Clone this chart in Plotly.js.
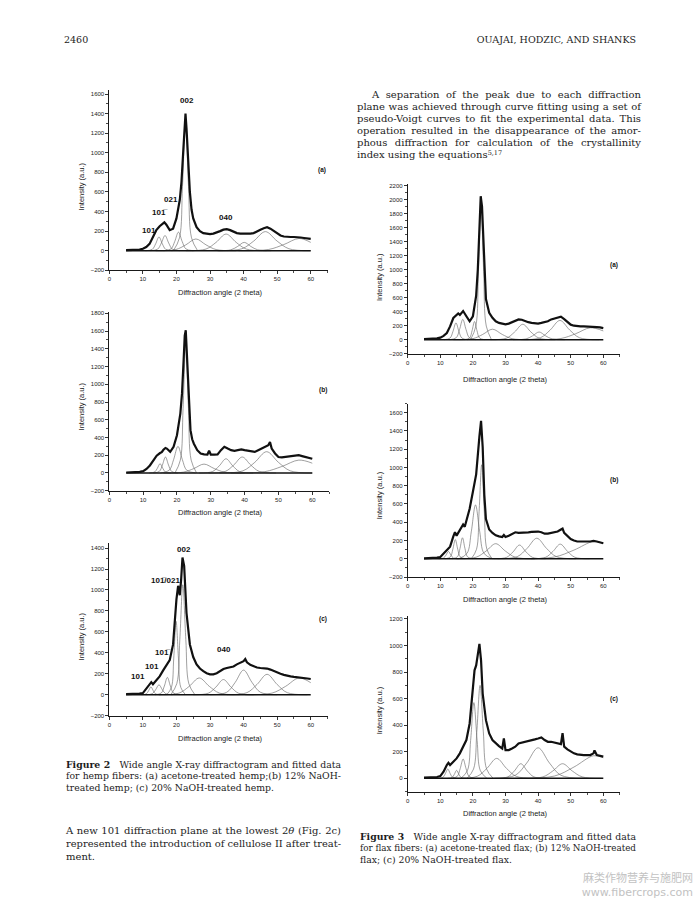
<!DOCTYPE html>
<html><head><meta charset="utf-8">
<script src="https://cdn.plot.ly/plotly-3.0.1.min.js"></script>
<style>
body{margin:0;background:#fff;}
#page{position:relative;width:699px;height:905px;overflow:hidden;background:#fff;}
#chart{position:absolute;left:0;top:0;width:699px;height:905px;}
.ln{position:absolute;white-space:nowrap;font-family:"DejaVu Serif",serif;color:#1c1c1c;line-height:1;}
</style></head><body>
<div id="page"><div id="chart"></div></div>
<script>
// ---------- DATA: Figure 2 (hemp) ----------
const hempA_x = [5,6,7,8,9,10,11,12,13,14,15,16,16.4,17,18,19,20,21,21.5,22,22.4,22.7,23,23.4,24,24.5,25,26,27,28,29,30,31,32,33,34,35,36,37,38,39,40,41,42,43,44,45,46,47,48,49,50,51,52,53,54,55,56,57,58,59,60];
const hempA_y = [5,5,6,8,12,20,38,70,140,210,250,285,290,265,210,225,330,520,700,1000,1300,1400,1250,950,600,420,330,240,200,180,175,170,175,185,200,215,220,210,195,180,175,175,170,175,180,200,215,230,240,225,200,175,155,145,140,140,140,140,135,130,125,120];
const hempA_fits = [
 [[10.8,12.8,13.8,14.8,15.8,16.8,18.8],[0,14,70,140,70,14,0]],
 [[12.2,14.4,15.5,16.6,17.7,18.8,21.0],[0,16,78,155,78,16,0]],
 [[16.2,18.4,19.5,20.6,21.7,22.8,25.0],[0,19,95,190,95,19,0]],
 [[19.1,20.9,21.8,22.7,23.6,24.5,26.3],[0,131,655,1310,655,131,0]],
 [[13.8,19.8,22.8,25.8,28.8,31.8,37.8],[0,12,60,120,60,12,0]],
 [[22.8,28.8,31.8,34.8,37.8,40.8,46.8],[0,17,85,170,85,17,0]],
 [[32.2,36.2,38.2,40.2,42.2,44.2,48.2],[0,9,43,85,43,9,0]],
 [[32.5,39.5,43.0,46.5,50.0,53.5,60.0],[0,20,98,195,98,20,0]],
 [[38.5,47.5,52.0,56.5,60.0],[0,13,63,125,85]]
];
const hempB_x = [5,6,7,8,9,10,11,12,13,14,15,15.5,16,16.6,17,18,19,20,21,21.5,22,22.3,22.6,23,23.5,24,24.5,25,26,27,28,29,29.5,30,31,32,33,34,35,36,37,38,39,40,41,42,43,44,45,46,47,47.5,48,49,50,51,52,53,54,55,56,57,58,59,60];
const hempB_y = [5,5,6,8,12,20,45,85,143,195,225,235,262,282,275,238,295,425,670,900,1300,1550,1610,1275,750,483,380,330,257,220,210,208,250,208,208,210,257,295,275,257,250,257,265,257,250,240,238,257,275,295,313,350,275,220,180,175,180,190,190,192,200,190,180,175,160];
const hempB_fits = [
 [[11.8,13.4,14.2,15.0,15.8,16.6,18.2],[0,11,53,105,53,11,0]],
 [[13.0,14.8,15.7,16.6,17.5,18.4,20.2],[0,18,90,180,90,18,0]],
 [[15.1,17.7,19.0,20.3,21.6,22.9,25.5],[0,30,150,300,150,30,0]],
 [[19.4,21.0,21.8,22.6,23.4,24.2,25.8],[0,145,725,1450,725,145,0]],
 [[16,22,25,28,31,34,40],[0,10,50,100,50,10,0]],
 [[26.5,30.5,32.5,34.5,36.5,38.5,42.5],[0,16,80,160,80,16,0]],
 [[29.3,34.3,36.8,39.3,41.8,44.3,49.3],[0,18,90,180,90,18,0]],
 [[32.5,39.5,43,46.5,50,53.5,60],[0,24,120,240,120,24,0]],
 [[36,46,51,56,60],[0,15,73,145,110]]
];
const hempC_x = [5,6,7,8,9,10,11,12,12.5,13,14,15,16,17,18,19,19.5,20,20.5,21,21.4,21.8,22.3,23,24,25,26,27,28,29,30,31,32,33,34,35,36,37,38,39,40,40.5,41,42,43,44,45,46,47,48,49,50,51,52,53,54,55,56,57,58,59,60];
const hempC_y = [5,5,6,8,10,16,55,100,120,100,135,175,230,280,330,480,700,910,1040,950,1100,1310,1230,780,480,360,290,250,225,205,195,195,205,225,245,255,260,270,290,305,320,340,310,285,270,260,255,255,250,240,225,210,200,190,180,175,170,168,165,160,155,150];
const hempC_fits = [
 [[9.6,11.0,11.7,12.4,13.1,13.8,15.2],[0,8,38,75,38,8,0]],
 [[10.8,12.8,13.8,14.8,15.8,16.8,18.8],[0,10,48,95,48,10,0]],
 [[13.7,15.5,16.4,17.3,18.2,19.1,20.9],[0,17,83,165,83,17,0]],
 [[17.1,18.5,19.2,19.9,20.6,21.3,22.7],[0,70,350,700,350,70,0]],
 [[18.3,20.1,21.0,21.9,22.8,23.7,25.5],[0,105,525,1050,525,105,0]],
 [[14.8,20.8,23.8,26.8,29.8,32.8,38.8],[0,16,80,160,80,16,0]],
 [[25,29.5,31.75,34,36.25,38.5,43],[0,15,73,145,73,15,0]],
 [[30,35,37.5,40,42.5,45,50],[0,24,118,235,118,24,0]],
 [[35,41,44,47,50,53,59],[0,20,98,195,98,20,0]],
 [[40.5,48.5,52.5,56.5,60],[0,16,80,160,115]]
];
// ---------- DATA: Figure 3 (flax) ----------
const flaxA_x = [5,6,7,8,9,10,11,12,13,14,15,15.5,16,17,18,19,20,21,21.5,22,22.4,22.8,23.2,23.6,24,25,26,27,28,29,30,31,32,33,34,35,36,37,38,39,40,41,42,43,44,45,46,47,48,49,50,51,52,53,54,55,56,57,58,59,60];
const flaxA_y = [10,10,11,13,18,30,55,95,190,310,360,375,355,410,335,263,335,630,1000,1500,2050,1900,1400,900,580,385,312,263,240,230,220,230,250,270,290,285,263,250,240,230,230,240,250,263,290,305,320,330,295,250,215,200,190,190,190,190,190,185,180,175,165];
const flaxA_fits = [
 [[11.2,13.0,13.9,14.8,15.7,16.6,18.4],[0,24,120,240,120,24,0]],
 [[12.9,14.9,15.9,16.9,17.9,18.9,20.9],[0,29,145,290,145,29,0]],
 [[17.5,19.0,19.75,20.5,21.25,22.0,23.5],[0,26,130,260,130,26,0]],
 [[19.3,20.9,21.7,22.5,23.3,24.1,25.7],[0,195,975,1950,975,195,0]],
 [[14,20,23,26,29,32,38],[0,15,75,150,75,15,0]],
 [[25.3,30.3,32.8,35.3,37.8,40.3,45.3],[0,22,110,220,110,22,0]],
 [[32.3,36.3,38.3,40.3,42.3,44.3,48.3],[0,11,55,110,55,11,0]],
 [[34.7,40.7,43.7,46.7,49.7,52.7,58.7],[0,28,138,275,138,28,0]],
 [[38,47,51.5,56,60],[0,17,85,170,125]]
];
const flaxB_x = [5,6,7,8,9,10,11,12,13,14,14.5,15,16,17,17.5,18,19,20,21,22,22.5,23,23.5,24,25,26,27,28,29,29.5,30,31,32,33,34,35,36,37,38,39,40,41,42,43,44,45,46,47,47.5,48,49,50,51,52,53,54,55,56,57,58,59,60];
const flaxB_y = [5,5,6,8,12,19,57,94,132,245,290,253,320,375,350,415,547,735,925,1340,1510,1225,700,434,320,283,257,245,238,260,238,253,275,290,283,283,290,290,294,298,298,290,275,275,283,290,298,320,330,283,245,215,200,189,189,185,189,189,196,189,177,170];
const flaxB_fits = [
 [[9.5,11,11.75,12.5,13.25,14,15.5],[0,8,40,80,40,8,0]],
 [[11.6,13.1,13.85,14.6,15.35,16.1,17.6],[0,21,105,210,105,21,0]],
 [[13.8,15.3,16.05,16.8,17.55,18.3,19.8],[0,23,115,230,115,23,0]],
 [[15.6,18.2,19.5,20.8,22.1,23.4,26.0],[0,59,295,590,295,59,0]],
 [[19.5,21.1,21.9,22.7,23.5,24.3,25.9],[0,103,515,1030,515,103,0]],
 [[15,21,24,27,30,33,39],[0,17,83,165,83,17,0]],
 [[26.3,30.3,32.3,34.3,36.3,38.3,42.3],[0,15,75,150,75,15,0]],
 [[27.6,33.6,36.6,39.6,42.6,45.6,51.6],[0,23,113,225,113,23,0]],
 [[37.8,42.3,44.55,46.8,49.05,51.3,55.8],[0,16,80,160,80,16,0]],
 [[33,45,51,57,60],[0,19,95,190,170]]
];
const flaxC_x = [5,6,7,8,9,10,11,12,12.5,13,14,15,16,17,18,19,20,20.5,21,21.5,22,22.5,23,24,25,26,27,28,29,29.5,30,31,32,33,34,35,36,37,38,39,40,41,42,43,44,45,46,47,47.5,48,49,50,51,52,53,54,55,56,57,57.3,58,59,60];
const flaxC_y = [5,5,6,8,10,17,50,100,117,100,125,150,188,238,288,413,713,813,850,938,1013,888,638,438,338,288,263,243,225,300,213,213,225,238,263,268,275,283,288,293,300,308,288,275,275,268,263,258,340,238,218,200,188,180,175,175,175,175,188,210,175,168,163];
const flaxC_fits = [
 [[9.3,10.8,11.55,12.3,13.05,13.8,15.3],[0,7,35,70,35,7,0]],
 [[12.2,13.6,14.3,15,15.7,16.4,17.8],[0,6,30,60,30,6,0]],
 [[13.4,15.2,16.1,17,17.9,18.8,20.6],[0,15,73,145,73,15,0]],
 [[16.3,18.3,19.3,20.3,21.3,22.3,24.3],[0,57,285,570,285,57,0]],
 [[18.2,20.2,21.2,22.2,23.2,24.2,26.2],[0,70,350,700,350,70,0]],
 [[15.3,21.3,24.3,27.3,30.3,33.3,39.3],[0,15,75,150,75,15,0]],
 [[26.7,30.7,32.7,34.7,36.7,38.7,42.7],[0,11,55,110,55,11,0]],
 [[26,33,36.5,40,43.5,47,54],[0,23,115,230,115,23,0]],
 [[35.5,41.5,44.5,47.5,50.5,53.5,59.5],[0,11,55,110,55,11,0]],
 [[33,45,51,57,60],[0,17,85,170,155]]
];
const baseline_x = [5,60];
const baseline_y = [0,0];

// ---------- TEXT ----------
const xTitle = 'Diffraction angle (2 theta)';
const yTitle = 'Intensity (a.u.)';
const bar1 = '10' + '1\u0305';
const hempA_labels = [['002',23.1,1538],['021',18.4,525],[bar1,15.1,388],['101',11.9,211],['040',34.7,337]];
const hempC_labels = [['002',22.3,1388],[bar1+'/021',16.7,1095],[bar1,15.9,401],['101',12.6,268],['101',8.5,172],['040',34.2,436]];
const panelTags = ['(a)','(b)','(c)','(a)','(b)','(c)'];

// ---------- LAYOUT ----------
const W = 699, H = 905;
const panels = [
 {mx:hempA_x,my:hempA_y,fits:hempA_fits,xp:[109.3,327.5],yp:[90.1,270.3],yr:[-200,1640],tag:[63.3,824],xt:[220,292],yt:[81.7,186.7],labels:hempA_labels},
 {mx:hempB_x,my:hempB_y,fits:hempB_fits,xp:[109.3,329.2],yp:[311.6,490.7],yr:[-200,1820],tag:[63.3,936],xt:[220,512.5],yt:[81.7,406.7],labels:[]},
 {mx:hempC_x,my:hempC_y,fits:hempC_fits,xp:[109.3,327.5],yp:[542.8,715.7],yr:[-200,1450],tag:[63.7,720],xt:[220,738.3],yt:[81.7,636.7],labels:hempC_labels},
 {mx:flaxA_x,my:flaxA_y,fits:flaxA_fits,xp:[407.7,619.6],yp:[183.6,353.7],yr:[-200,2230],tag:[63.4,1067],xt:[505,379],yt:[379.3,276.7],labels:[]},
 {mx:flaxB_x,my:flaxB_y,fits:flaxB_fits,xp:[407.7,619.6],yp:[403.6,577],yr:[-200,1700],tag:[63.4,863],xt:[505,599.3],yt:[379.3,495],labels:[]},
 {mx:flaxC_x,my:flaxC_y,fits:flaxC_fits,xp:[407.7,619.6],yp:[616.3,791.6],yr:[-100,1220],tag:[63.4,597],xt:[505,813.3],yt:[379.3,710],labels:[]}
];
const tickFont = {family:'"Liberation Sans", Arial, sans-serif', size:6, color:'#222'};
const traces = [];
const layout = {width:W,height:H,margin:{l:0,r:0,t:0,b:0},paper_bgcolor:'#fff',plot_bgcolor:'rgba(0,0,0,0)',showlegend:false,annotations:[],font:{family:'"Liberation Sans", Arial, sans-serif'}};
panels.forEach((p,i)=>{
  const n = i===0?'':String(i+1);
  const xa='x'+n, ya='y'+n;
  p.fits.forEach(f=>traces.push({x:f[0],y:f[1],xaxis:xa,yaxis:ya,mode:'lines',line:{color:'#6c6c6c',width:0.65,shape:'spline',smoothing:1},hoverinfo:'skip'}));
  traces.push({x:baseline_x,y:baseline_y,xaxis:xa,yaxis:ya,mode:'lines',line:{color:'#111',width:1.4},hoverinfo:'skip'});
  traces.push({x:p.mx,y:p.my,xaxis:xa,yaxis:ya,mode:'lines',line:{color:'#111',width:2.2},hoverinfo:'skip'});
  const common = {ticks:'outside',ticklen:3,tickwidth:0.8,tickcolor:'#000',showline:true,linecolor:'#000',linewidth:0.9,showgrid:false,zeroline:false,tickfont:tickFont,fixedrange:true};
  layout['xaxis'+n] = Object.assign({},common,{domain:[p.xp[0]/W,p.xp[1]/W],range:[0,65],tick0:0,dtick:10,anchor:ya,minor:{dtick:5,ticks:'outside',ticklen:2,tickcolor:'#000',tickwidth:0.7,showgrid:false}});
  layout['yaxis'+n] = Object.assign({},common,{domain:[1-p.yp[1]/H,1-p.yp[0]/H],range:p.yr,tick0:0,dtick:200,anchor:xa,minor:{dtick:100,ticks:'outside',ticklen:2,tickcolor:'#000',tickwidth:0.7,showgrid:false}});
  layout.annotations.push({xref:'paper',yref:'paper',x:p.xt[0]/W,y:1-p.xt[1]/H,text:xTitle,showarrow:false,xanchor:'center',yanchor:'middle',font:{size:7.5,color:'#222'}});
  layout.annotations.push({xref:'paper',yref:'paper',x:p.yt[0]/W,y:1-p.yt[1]/H,text:yTitle,textangle:-90,showarrow:false,xanchor:'center',yanchor:'middle',font:{size:7.5,color:'#222'}});
  layout.annotations.push({xref:xa,yref:ya,x:p.tag[0],y:p.tag[1],text:'<b>'+panelTags[i]+'</b>',showarrow:false,xanchor:'center',yanchor:'middle',font:{size:6.5,color:'#111'}});
  p.labels.forEach(l=>layout.annotations.push({xref:xa,yref:ya,x:l[1],y:l[2],text:'<b>'+l[0]+'</b>',showarrow:false,xanchor:'center',yanchor:'middle',font:{size:8,color:'#111'}}));
});
Plotly.newPlot('chart',traces,layout,{staticPlot:true,displayModeBar:false});

// ---------- PAGE TEXT ----------
const textLines = [
 {t:'2460',x:64,y:41,s:9.5},
 {t:'OUAJAI, HODZIC, AND SHANKS',x:636,y:41,s:9.5,a:'r'},
 {t:'A separation of the peak due to each diffraction',x:372,y:96,s:10,w:269,j:1},
 {t:'plane was achieved through curve fitting using a set of',x:357,y:108,s:10,w:284,j:1},
 {t:'pseudo-Voigt curves to fit the experimental data. This',x:357,y:120,s:10,w:284,j:1},
 {t:'operation resulted in the disappearance of the amor-',x:357,y:132,s:10,w:284,j:1},
 {t:'phous diffraction for calculation of the crystallinity',x:357,y:144,s:10,w:284,j:1},
 {t:'index using the equations<sup style="font-size:65%;vertical-align:0.45em">5,17</sup>',x:357,y:156,s:10},
 {t:'<b>Figure 2</b>\u2003Wide angle X-ray diffractogram and fitted data',x:66,y:765,s:9.3,w:275,j:1},
 {t:'for hemp fibers: (a) acetone-treated hemp;(b) 12% NaOH-',x:66,y:776.5,s:9.3,w:275,j:1},
 {t:'treated hemp; (c) 20% NaOH-treated hemp.',x:66,y:788,s:9.3},
 {t:'A new 101 diffraction plane at the lowest 2<i>\u03b8</i> (Fig. 2c)',x:66,y:832,s:10,w:275,j:1},
 {t:'represented the introduction of cellulose II after treat-',x:66,y:845,s:10,w:275,j:1},
 {t:'ment.',x:66,y:858,s:10},
 {t:'<b>Figure 3</b>\u2003Wide angle X-ray diffractogram and fitted data',x:360,y:837,s:9.3,w:276,j:1},
 {t:'for flax fibers: (a) acetone-treated flax; (b) 12% NaOH-treated',x:360,y:848.5,s:9.3,w:276,j:1},
 {t:'flax; (c) 20% NaOH-treated flax.',x:360,y:860,s:9.3},
 {t:'麻类作物营养与施肥网',x:693,y:878.5,s:11,a:'r',f:'"Noto Sans CJK SC", sans-serif',c:'#c2c2c2'},
 {t:'www.fibercrops.com',x:693,y:893,s:11,a:'r',f:'"DejaVu Sans", sans-serif',c:'#c2c2c2'}
];
const page = document.getElementById('page');
textLines.forEach(L=>{
  const d = document.createElement('div');
  d.className = 'ln';
  d.innerHTML = L.t;
  d.style.fontSize = L.s+'px';
  if (L.f) d.style.fontFamily = L.f;
  if (L.c) d.style.color = L.c;
  page.appendChild(d);
  const nat = d.getBoundingClientRect().width;
  let left = L.x;
  if (L.a==='r') left = L.x - nat;
  if (L.w) {
    const ns = (d.textContent.match(/ /g)||[]).length;
    if (nat > L.w) { d.style.transformOrigin='0 0'; d.style.transform='scaleX('+(L.w/nat)+')'; }
    else if (L.j && ns>0) { d.style.wordSpacing = ((L.w-nat)/ns)+'px'; }
  }
  d.style.left = left+'px';
  d.style.top = (L.y - L.s*0.58)+'px';
});
</script>
</body></html>
